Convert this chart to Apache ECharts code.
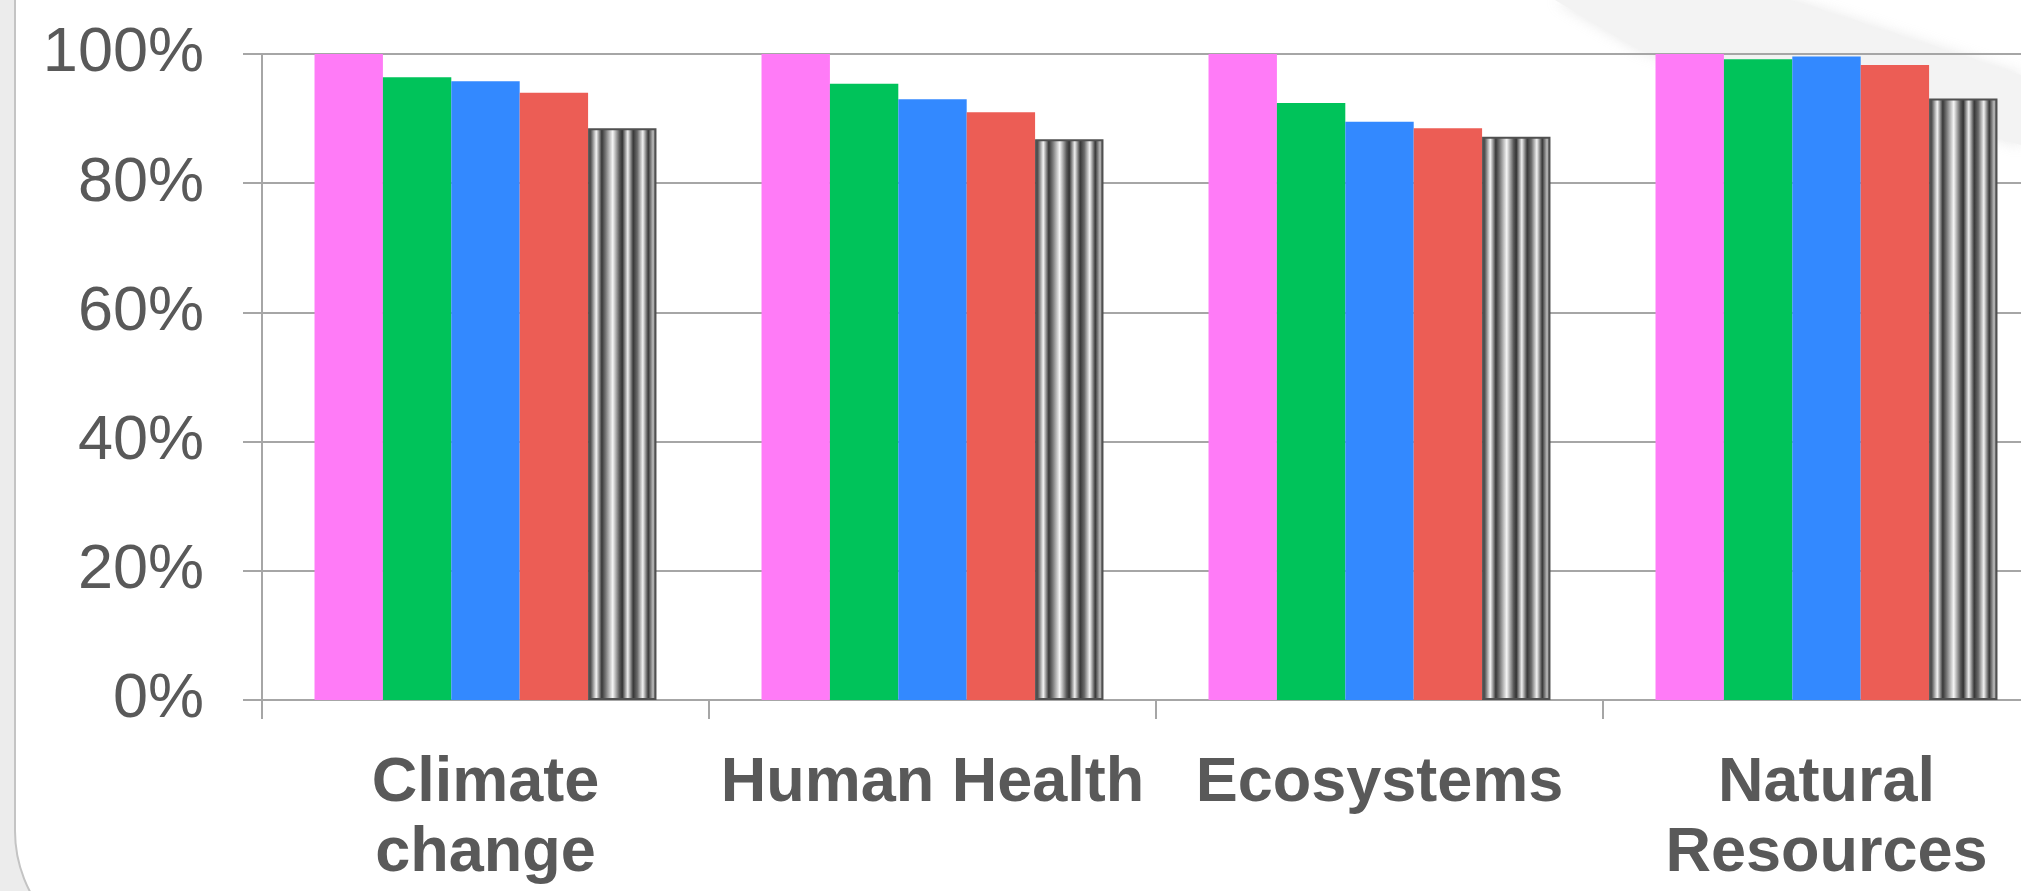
<!DOCTYPE html>
<html>
<head>
<meta charset="utf-8">
<script src="https://cdn.jsdelivr.net/npm/echarts@6/dist/echarts.min.js"></script>
<style>
  html, body { margin: 0; padding: 0; background: #ececec; overflow: hidden; width: 2021px; height: 891px; }
  /* the plot runs past the right edge, so the canvas is wider than the page */
  #chart { width: 2080px; height: 891px; }
</style>
</head>
<body>
<div id="chart"></div>
<script>
// Impact categories and the relative score (%) of each of the five variants
const categories = ['Climate\nchange', 'Human Health', 'Ecosystems', 'Natural\nResources'];
const variant1 = [100, 100, 100, 100];
const variant2 = [96.4, 95.4, 92.4, 99.2];
const variant3 = [95.8, 93.0, 89.5, 99.6];
const variant4 = [94.0, 91.0, 88.5, 98.3];
const variant5 = [88.5, 86.8, 87.2, 93.1];
const yTicks = [0, 20, 40, 60, 80, 100];

const gridColor = '#a6a6a6';
const textColor = '#595959';
const fontFamily = '"Liberation Sans", Arial, sans-serif';

// vertical stripe fill (cylindrical shading) laid out across each bar's width
const stripeFill = {
  type: 'linear', x: 0, y: 0, x2: 1, y2: 0,
  colorStops: [
    { offset: 0.00, color: '#3a3a3a' },
    { offset: 0.04, color: '#555555' },
    { offset: 0.12, color: '#f4f4f4' },
    { offset: 0.20, color: '#383838' },
    { offset: 0.26, color: '#7a7a7a' },
    { offset: 0.36, color: '#f6f6f6' },
    { offset: 0.46, color: '#5a5a5a' },
    { offset: 0.50, color: '#333333' },
    { offset: 0.58, color: '#efefef' },
    { offset: 0.66, color: '#383838' },
    { offset: 0.72, color: '#6a6a6a' },
    { offset: 0.80, color: '#f2f2f2' },
    { offset: 0.88, color: '#383838' },
    { offset: 0.95, color: '#bcbcbc' },
    { offset: 1.00, color: '#444444' }
  ]
};

const chart = echarts.init(document.getElementById('chart'), null, { renderer: 'canvas' });

function barSeries(name, data, color, extra) {
  return Object.assign({
    name: name,
    type: 'bar',
    data: data,
    barGap: '0%',
    barCategoryGap: '23.5%',
    itemStyle: { color: color },
    animation: false
  }, extra || {});
}

chart.setOption({
  backgroundColor: '#ececec',
  animation: false,
  graphic: [
    {
      type: 'rect', z: -10, silent: true,
      shape: { x: 15, y: -300, width: 2400, height: 1261, r: 130 },
      style: { fill: '#ffffff', stroke: '#c4c4c4', lineWidth: 2 }
    },
    {
      type: 'polygon', z: -9, silent: true,
      shape: { points: [[1555, 0], [1790, 0], [2021, 75], [2021, 145], [1930, 118], [1790, 95], [1640, 50]] },
      style: { fill: '#f3f3f3', shadowBlur: 14, shadowColor: 'rgba(225,225,225,0.8)' }
    }
  ],
  grid: { left: 262, top: 54, width: 1788, height: 646, containLabel: false },
  xAxis: {
    type: 'category',
    data: categories,
    axisLine: { show: true, lineStyle: { color: gridColor, width: 2 } },
    axisTick: { show: true, length: 19, lineStyle: { color: gridColor, width: 2 } },
    axisLabel: {
      interval: 0, margin: 49,
      color: textColor, fontFamily: fontFamily, fontWeight: 'bold',
      fontSize: 63, lineHeight: 70, align: 'center'
    },
    splitLine: { show: false }
  },
  yAxis: {
    type: 'value',
    min: yTicks[0], max: yTicks[yTicks.length - 1], interval: yTicks[1] - yTicks[0],
    axisLine: { show: true, lineStyle: { color: gridColor, width: 2 } },
    axisTick: { show: true, length: 19, lineStyle: { color: gridColor, width: 2 } },
    axisLabel: {
      formatter: '{value}%', margin: 58,
      color: textColor, fontFamily: fontFamily, fontSize: 63
    },
    splitLine: { show: true, lineStyle: { color: gridColor, width: 2 } }
  },
  series: [
    barSeries('Variant 1', variant1, '#ff7bf7'),
    barSeries('Variant 2', variant2, '#00c35a'),
    barSeries('Variant 3', variant3, '#3389ff'),
    barSeries('Variant 4', variant4, '#ec5d55'),
    barSeries('Variant 5', variant5, stripeFill, {
      itemStyle: { color: stripeFill, borderColor: '#505050', borderWidth: 2 }
    })
  ]
});
</script>
</body>
</html>
